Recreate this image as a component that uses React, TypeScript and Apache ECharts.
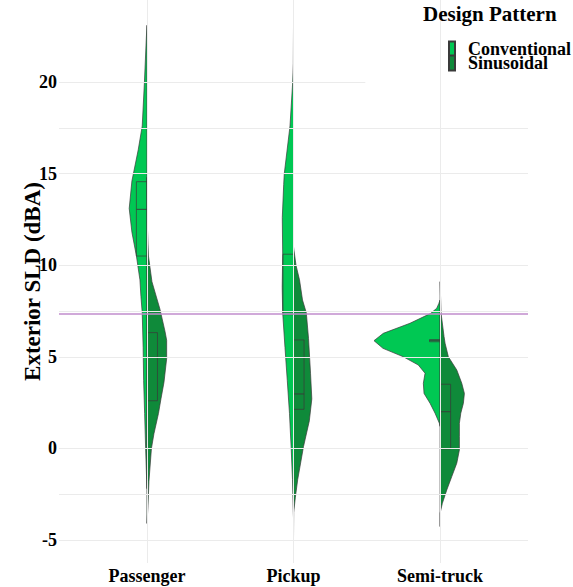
import React, { useEffect, useRef } from 'react';
import * as echarts from 'echarts';

const categories = ['Passenger', 'Pickup', 'Semi-truck'];
const seriesNames = ['Conventional', 'Sinusoidal'];
const yTicks = [-5, 0, 5, 10, 15, 20];
const minorGridValues = [17.5, 7.5, -2.5];
const referenceLevel = 7.36;

// Violin half profiles: value (dBA) and density (half-width)
const passengerConvValues = [23.1, 22.3, 20.0, 17.6, 16.3, 14.6, 13.1, 11.8, 10.5, 9.2, 8.3, 7.4, 5.5, 3.7, 1.9, 0.0, -1.7, -2.2];
const passengerConvDensity = [0, 0.7, 2.5, 4.7, 8.7, 15, 17.7, 15, 10.5, 7, 6, 4.7, 3.8, 3.3, 2.3, 1.3, 0.3, 0];
const passengerSinValues = [14.8, 12.0, 10.5, 9.9, 9.1, 7.6, 6.4, 5.9, 4.9, 3.6, 2.7, 1.9, 0.8, 0.0, -1.8, -3.2, -4.1];
const passengerSinDensity = [0, 0.5, 1.5, 3, 5, 13, 18, 19.7, 19.7, 17, 14, 11.5, 7, 4.5, 2, 1, 0];

const pickupConvValues = [23.0, 21.0, 20.0, 17.6, 15.0, 14.4, 12.6, 10.6, 8.8, 7.4, 5.5, 3.7, 1.9, 0.0, -1.7, -3.5, -3.8];
const pickupConvDensity = [0, 0.2, 0.8, 3.5, 9.2, 9.8, 11.2, 10.8, 11.3, 10.8, 8.5, 6.2, 4, 2.3, 1, 0.2, 0];
const pickupSinValues = [11.0, 10.0, 9.2, 8.1, 7.4, 6.0, 4.1, 2.7, 1.5, 0.1, -1.7, -2.7, -3.5, -4.86];
const pickupSinDensity = [0, 2.5, 6, 9, 12.8, 15, 17, 18.3, 15.8, 10, 4.2, 1.8, 0.2, 0];

const semiConvValues = [8.1, 7.9, 7.65, 7.37, 6.83, 6.28, 5.88, 5.46, 5.0, 4.55, 4.1, 3.55, 3.0, 2.46, 1.92, 1.37, 1.2];
const semiConvDensity = [0, 1.3, 3.3, 9.3, 30, 56.7, 66, 57, 36.7, 21.7, 15, 16.7, 16, 10, 5, 0.7, 0];
const semiSinValues = [9.1, 7.37, 6.1, 5.74, 5.0, 4.28, 3.55, 3.0, 2.46, 1.92, 1.37, 0.64, -0.09, -0.81, -1.54, -2.27, -3.0, -3.54, -4.27];
const semiSinDensity = [0, 1, 4, 5, 8.3, 16.7, 21.7, 24.3, 23.3, 20.7, 19.3, 19.3, 19.3, 16.7, 11.7, 6.7, 2.3, 0, 0];

// Box plot statistics per category
const convQ1 = [10.5, 7.3, 5.82];
const convMedian = [13.05, 7.45, 5.88];
const convQ3 = [14.56, 10.6, 5.94];
const sinQ1 = [2.6, 2.13, -0.03];
const sinMedian = [4.97, 2.97, 2.0];
const sinQ3 = [6.32, 5.92, 3.5];

const convColor = '#00C853';
const sinColor = '#0F8A3A';
const outlineColor = '#3a3a3a';
const gridColor = '#ebebeb';
const refColor = '#c08ccc';
const fontFamily = '"Liberation Serif", "Times New Roman", serif';

const VIOLIN_SCALE = 1 / 146.4; // x units per density unit
const BOX_W = 0.072;

type Half = { values: number[]; density: number[]; q1: number; med: number; q3: number };

const halves: Half[][] = [
  [
    { values: passengerConvValues, density: passengerConvDensity, q1: convQ1[0], med: convMedian[0], q3: convQ3[0] },
    { values: pickupConvValues, density: pickupConvDensity, q1: convQ1[1], med: convMedian[1], q3: convQ3[1] },
    { values: semiConvValues, density: semiConvDensity, q1: convQ1[2], med: convMedian[2], q3: convQ3[2] },
  ],
  [
    { values: passengerSinValues, density: passengerSinDensity, q1: sinQ1[0], med: sinMedian[0], q3: sinQ3[0] },
    { values: pickupSinValues, density: pickupSinDensity, q1: sinQ1[1], med: sinMedian[1], q3: sinQ3[1] },
    { values: semiSinValues, density: semiSinDensity, q1: sinQ1[2], med: sinMedian[2], q3: sinQ3[2] },
  ],
];

function makeRender(side: number, color: string) {
  const sign = side === 0 ? -1 : 1;
  return (params: any, api: any) => {
    const idx = params.dataIndex;
    const h = halves[side][idx];
    const g = idx + 1;
    const pts = h.values.map((v, i) => api.coord([g + sign * h.density[i] * VIOLIN_SCALE, v]));
    const vmax = h.values[0];
    const vmin = h.values[h.values.length - 1];
    const cTop = api.coord([g, vmax]);
    const cBot = api.coord([g, vmin]);
    const q3c = api.coord([g, h.q3]);
    const q1c = api.coord([g, h.q1]);
    const medc = api.coord([g, h.med]);
    const xEdge = api.coord([g + sign * BOX_W, h.med])[0];
    const x0 = q3c[0];
    const bx = Math.min(x0, xEdge);
    const bw = Math.abs(xEdge - x0);
    return {
      type: 'group',
      children: [
        { type: 'polygon', shape: { points: [cTop, ...pts, cBot] }, style: { fill: color, stroke: 'none' } },
        { type: 'polyline', shape: { points: pts }, style: { stroke: outlineColor, lineWidth: 0.7, fill: 'none' } },
        { type: 'line', shape: { x1: cTop[0], y1: cTop[1], x2: q3c[0], y2: q3c[1] }, style: { stroke: outlineColor, lineWidth: 0.7 } },
        { type: 'line', shape: { x1: q1c[0], y1: q1c[1], x2: cBot[0], y2: cBot[1] }, style: { stroke: outlineColor, lineWidth: 0.7 } },
        { type: 'rect', shape: { x: bx, y: q3c[1], width: bw, height: q1c[1] - q3c[1] }, style: { fill: 'none', stroke: outlineColor, lineWidth: 0.7 } },
        { type: 'line', shape: { x1: bx, y1: medc[1], x2: bx + bw, y2: medc[1] }, style: { stroke: outlineColor, lineWidth: 0.9 } },
      ],
    };
  };
}

export default function App() {
  const ref = useRef<HTMLDivElement>(null);
  useEffect(() => {
    if (!ref.current) return;
    const chart = echarts.init(ref.current, undefined, { renderer: 'svg' });
    const gridLines: any[] = [
      ...yTicks.filter((v) => v !== 20).map((v) => ({ yAxis: v })),
      ...minorGridValues.map((v) => ({ yAxis: v })),
      ...[1, 2, 3].map((v) => ({ xAxis: v })),
      [{ coord: [0.4, 20] }, { coord: [2.49, 20] }],
    ];
    chart.setOption({
      animation: false,
      title: {
        text: 'Design Pattern',
        left: 423,
        top: 3,
        padding: 0,
        textStyle: { fontFamily, fontWeight: 'bold', fontSize: 21, color: '#000' },
      },
      legend: {
        data: seriesNames,
        orient: 'vertical',
        left: 448,
        top: 40,
        padding: 0,
        itemGap: -4,
        itemWidth: 6,
        itemHeight: 15,
        icon: 'rect',
        selectedMode: false,
        textStyle: { fontFamily, fontWeight: 'bold', fontSize: 18, lineHeight: 14, color: '#000', padding: [0, 0, 0, 8] },
      },
      grid: { left: 59, right: 45, top: 0, bottom: 24 },
      xAxis: {
        type: 'value',
        min: 0.4,
        max: 3.6,
        axisLine: { show: false },
        axisTick: { show: false },
        splitLine: { show: false },
        axisLabel: {
          customValues: [1, 2, 3],
          formatter: (v: number) => categories[Math.round(v) - 1] ?? '',
          margin: 4,
          fontFamily,
          fontWeight: 'bold',
          fontSize: 18,
          color: '#000',
        },
      },
      yAxis: {
        type: 'value',
        min: -6.26,
        max: 24.48,
        name: 'Exterior SLD (dBA)',
        nameLocation: 'middle',
        nameRotate: 90,
        nameGap: 27,
        nameMoveOverlap: false,
        nameTextStyle: { fontFamily, fontWeight: 'bold', fontSize: 23, color: '#000', verticalAlign: 'middle' },
        axisLine: { show: false },
        axisTick: { show: false },
        splitLine: { show: false },
        axisLabel: {
          customValues: yTicks,
          margin: 2,
          fontFamily,
          fontWeight: 'bold',
          fontSize: 18,
          color: '#000',
        },
      },
      series: [
        {
          type: 'line',
          name: 'grid',
          data: [],
          z: 0,
          silent: true,
          markLine: {
            silent: true,
            symbol: 'none',
            label: { show: false },
            lineStyle: { color: gridColor, width: 1, type: 'solid' },
            data: gridLines,
          },
        },
        {
          type: 'custom',
          name: seriesNames[0],
          renderItem: makeRender(0, convColor),
          itemStyle: { color: convColor, borderColor: outlineColor, borderWidth: 0.5 },
          data: categories.map((_, i) => [i + 1, convMedian[i]]),
          z: 2,
        },
        {
          type: 'custom',
          name: seriesNames[1],
          renderItem: makeRender(1, sinColor),
          itemStyle: { color: sinColor, borderColor: outlineColor, borderWidth: 0.5 },
          data: categories.map((_, i) => [i + 1, sinMedian[i]]),
          z: 2,
        },
        {
          type: 'line',
          name: 'reference',
          data: [],
          z: 5,
          silent: true,
          markLine: {
            silent: true,
            symbol: 'none',
            label: { show: false },
            lineStyle: { color: refColor, width: 1.5, type: 'solid' },
            data: [{ yAxis: referenceLevel }],
          },
        },
      ],
    });
    return () => chart.dispose();
  }, []);
  return (
    <div
      ref={ref}
      style={{ position: 'fixed', left: 0, top: 0, width: 573, height: 587, background: '#fff' }}
    />
  );
}
